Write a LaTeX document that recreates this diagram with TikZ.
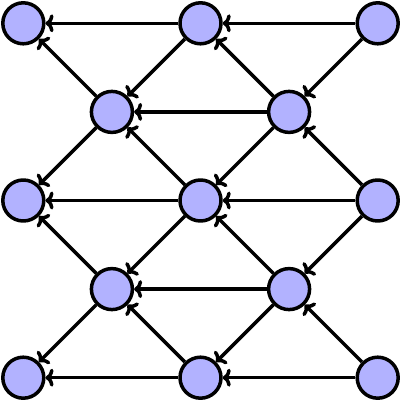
\documentclass[tikz,border=0pt]{standalone}
\usetikzlibrary{arrows.meta}
\begin{document}
\begin{tikzpicture}[x=88.6pt,y=88.6pt,line width=3.5pt,line join=round,
    vert/.style={circle,draw,fill=blue!30,minimum size=41pt,inner sep=0pt},
    edge/.style={-{Computer Modern Rightarrow[length=8pt,width=18pt]}}]
    \useasboundingbox (-0.263,-0.263) rectangle (4.263,4.263);
    % the vertices
    \foreach \x/\y in {0/0,2/0,4/0,1/1,3/1,0/2,2/2,4/2,1/3,3/3,0/4,2/4,4/4}
        \node[vert] (v\x\y) at (\x,\y) {};
    % horizontal edges
    \foreach \y in {0,2,4} {
        \draw[edge] (v4\y) -- (v2\y);
        \draw[edge] (v2\y) -- (v0\y);
    }
    \foreach \y in {1,3} {
        \draw[edge] (v3\y) -- (v1\y);
    }
    % diagonal edges
    \foreach \x in {1,3} {
        \foreach \y in {1,3} {
            \pgfmathtruncatemacro\xl{\x-1}
            \pgfmathtruncatemacro\xr{\x+1}
            \pgfmathtruncatemacro\yu{\y+1}
            \pgfmathtruncatemacro\yd{\y-1}
            \draw[edge] (v\x\y) -- (v\xl\yu);
            \draw[edge] (v\x\y) -- (v\xl\yd);
            \draw[edge] (v\xr\yu) -- (v\x\y);
            \draw[edge] (v\xr\yd) -- (v\x\y);
        }
    }
\end{tikzpicture}
\end{document}
